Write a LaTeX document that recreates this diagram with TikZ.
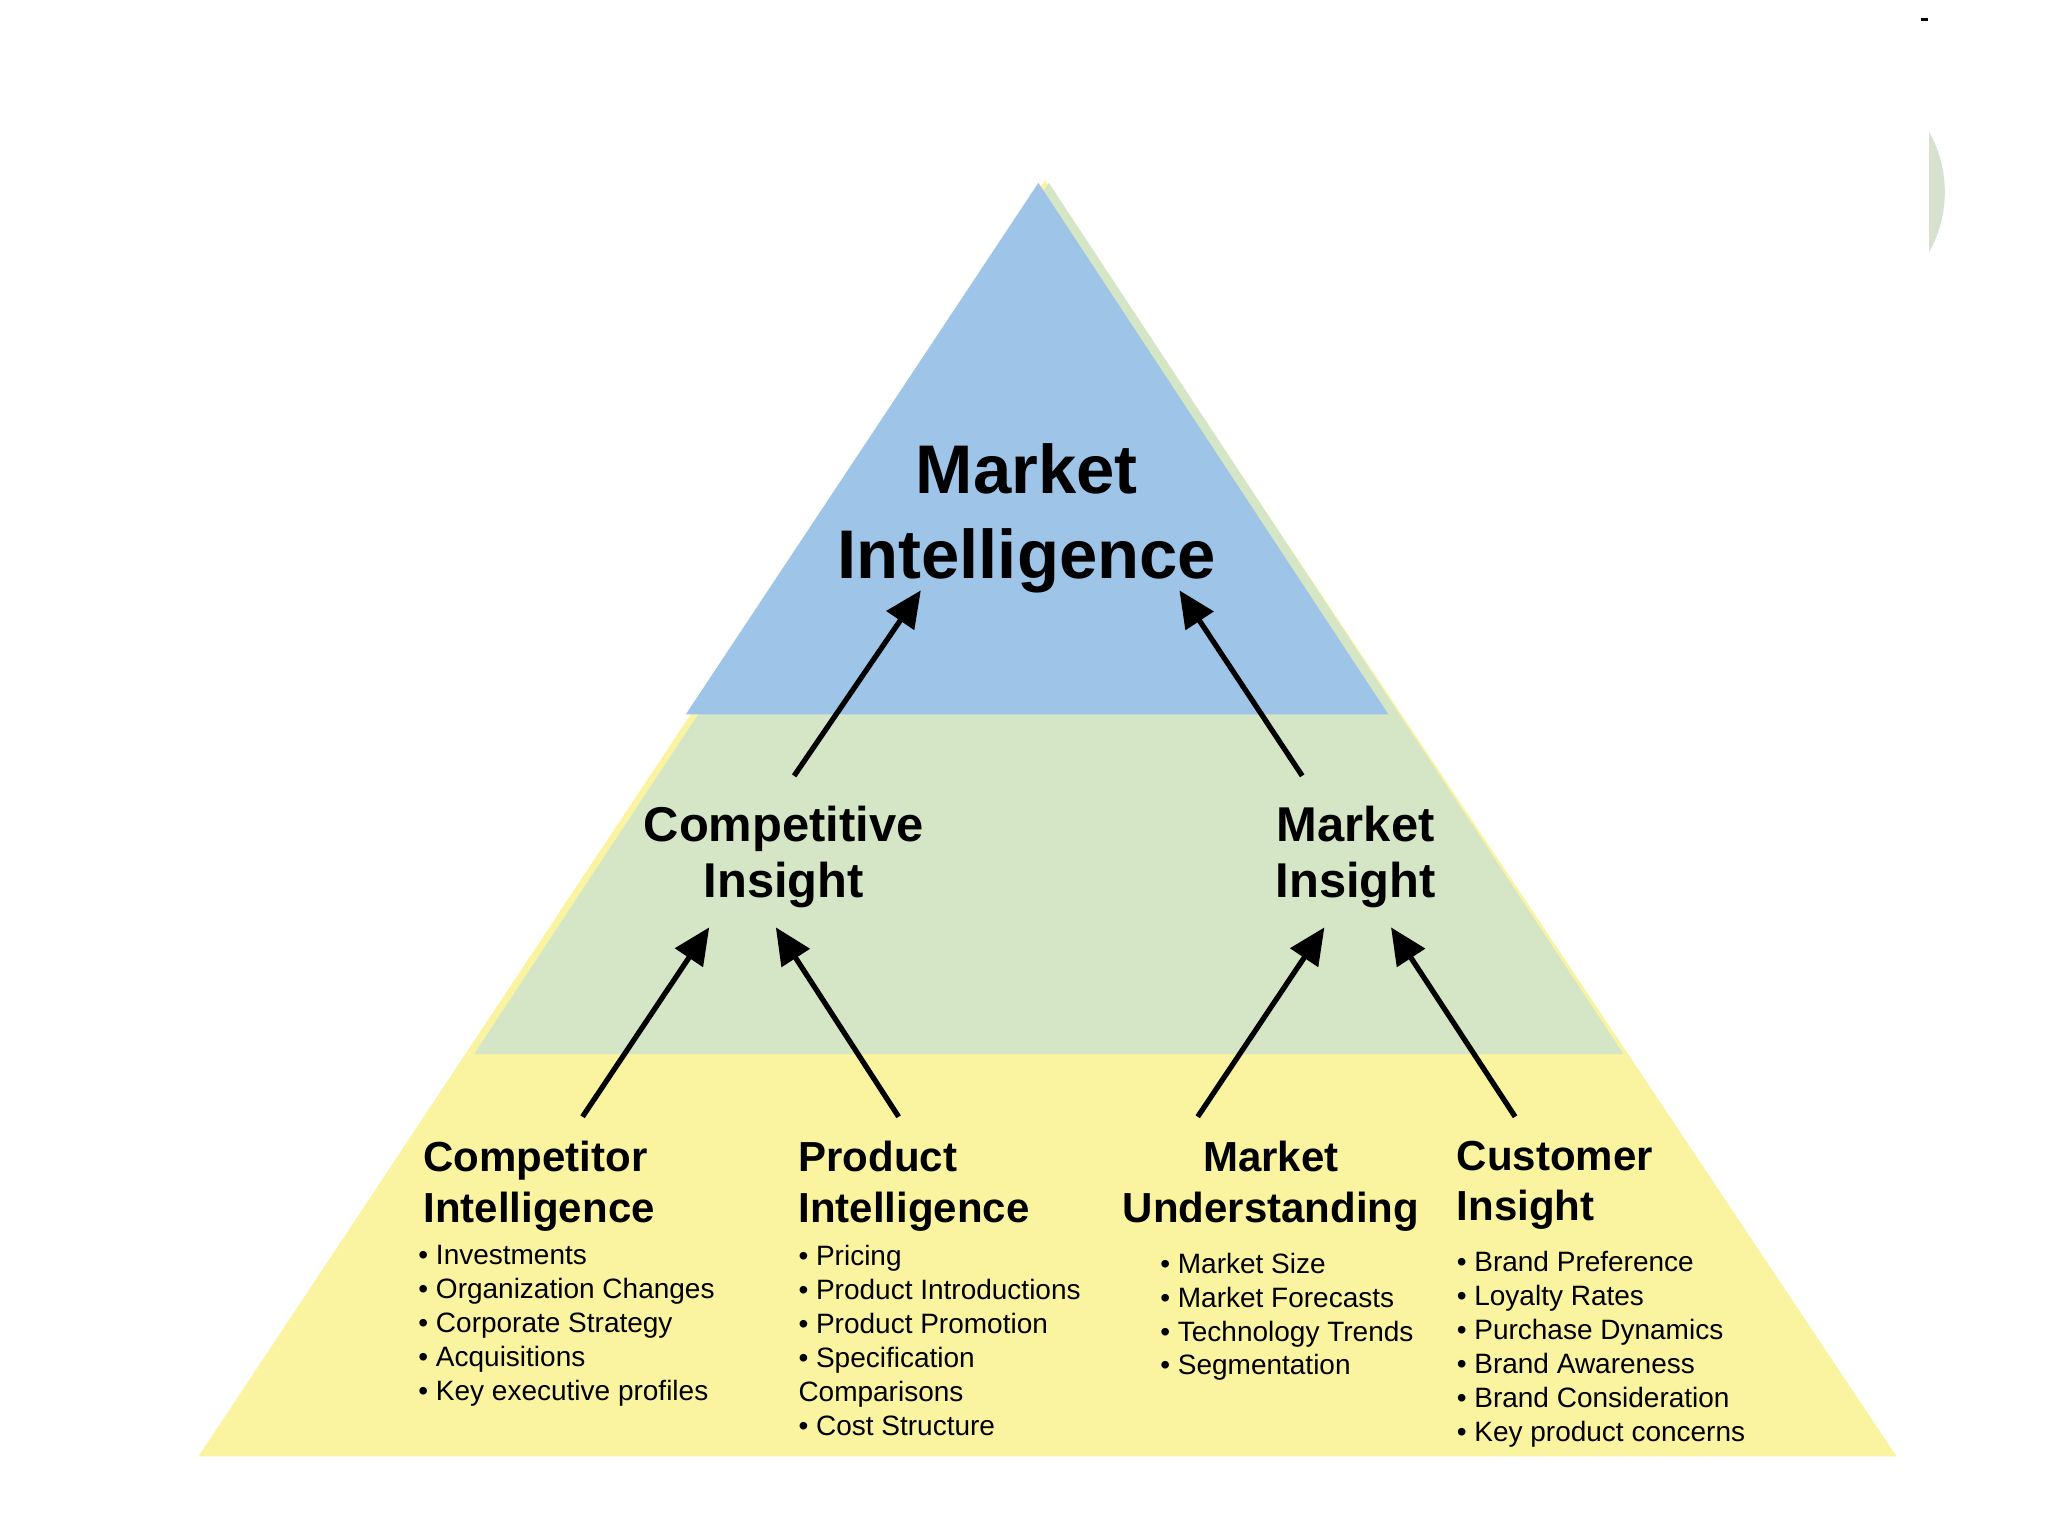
\documentclass[tikz,border=0pt]{standalone}
\usepackage{fontspec}
\setmainfont{Liberation Sans}
\usetikzlibrary{positioning,arrows.meta}
\definecolor{tipblue}{RGB}{158,196,232}
\definecolor{midgreen}{RGB}{212,230,197}
\definecolor{baseyellow}{RGB}{250,243,160}
\definecolor{lensgrey}{RGB}{214,225,208}

\begin{document}
\begin{tikzpicture}[x=0.02cm,y=-0.02cm,
		titlenode/.style={inner sep=0, align=center, font=\fontsize{30}{37}\selectfont\bfseries},
		midnode/.style={inner sep=0, align=center, font=\fontsize{21.3}{24.5}\selectfont\bfseries},
		headnode/.style={inner sep=0, font=\fontsize{18.3}{22.2}\selectfont\bfseries},
		listnode/.style={inner sep=0, align=left, font=\fontsize{12.2}{14.8}\selectfont},
		arr/.style={-{Triangle[length=0.56cm,width=0.5cm]}, line width=2.3pt},
		]
		\useasboundingbox (0,0) rectangle (1568,1176);
		
		%Layers
		\fill[baseyellow] (800,138) -- (1452,1115) -- (152,1115) -- cycle;
		\fill[midgreen] (803,140) -- (1243,807) -- (363,807) -- cycle;
		\fill[tipblue] (795,140) -- (1063,547) -- (525,547) -- cycle;
		
		%Corner marks
		\begin{scope}
			\clip (1477,0) rectangle (1568,400);
			\fill[lensgrey] (1395,147) circle[radius=94];
		\end{scope}
		\draw[line width=1.2pt] (1471,15) -- (1476,15);
		
		%Nodes
		\node[titlenode] (mi)   [anchor=north] at (786,339) {Market\\Intelligence};
		\node[midnode]   (cins) [anchor=north] at (600,617) {Competitive\\Insight};
		\node[midnode]   (mins) [anchor=north] at (1038,617) {Market\\Insight};
		
		\node[headnode, align=left]   (ci) [anchor=north west] at (324,873) {Competitor\\Intelligence};
		\node[headnode, align=left]   (pi) [anchor=north west] at (611,873) {Product\\Intelligence};
		\node[headnode, align=center] (mu) [anchor=north] at (973,873) {Market\\Understanding};
		\node[headnode, align=left]   (cu) [anchor=north west] at (1115,873) {Customer\\Insight};
		
		\node[listnode] (cil) [below=0.2cm of ci.south west, xshift=-0.08cm, anchor=north west]
			{• Investments\\• Organization Changes\\• Corporate Strategy\\• Acquisitions\\• Key executive profiles};
		\node[listnode] (pil) [below=0.2cm of pi.south west, anchor=north west]
			{• Pricing\\• Product Introductions\\• Product Promotion\\• Specification\\Comparisons\\• Cost Structure};
		\node[listnode] (mul) [below=0.32cm of mu.south, xshift=-1.7cm, anchor=north west]
			{• Market Size\\• Market Forecasts\\• Technology Trends\\• Segmentation};
		\node[listnode] (cul) [below=0.32cm of cu.south west, anchor=north west]
			{• Brand Preference\\• Loyalty Rates\\• Purchase Dynamics\\• Brand Awareness\\• Brand Consideration\\• Key product concerns};
		
		%Arrow ends
		\coordinate (a1) at (608,594);  \coordinate (b1) at (705,452);
		\coordinate (a2) at (997,594);  \coordinate (b2) at (903,452);
		\coordinate (a3) at (446,855);  \coordinate (b3) at (543,710);
		\coordinate (a4) at (688,855);  \coordinate (b4) at (594,710);
		\coordinate (a5) at (917,855);  \coordinate (b5) at (1014,710);
		\coordinate (a6) at (1160,855); \coordinate (b6) at (1065,710);
		
		%Lines
		\draw[arr] (a1) -- (b1);
		\draw[arr] (a2) -- (b2);
		\draw[arr] (a3) -- (b3);
		\draw[arr] (a4) -- (b4);
		\draw[arr] (a5) -- (b5);
		\draw[arr] (a6) -- (b6);
		\end{tikzpicture}
\end{document}
